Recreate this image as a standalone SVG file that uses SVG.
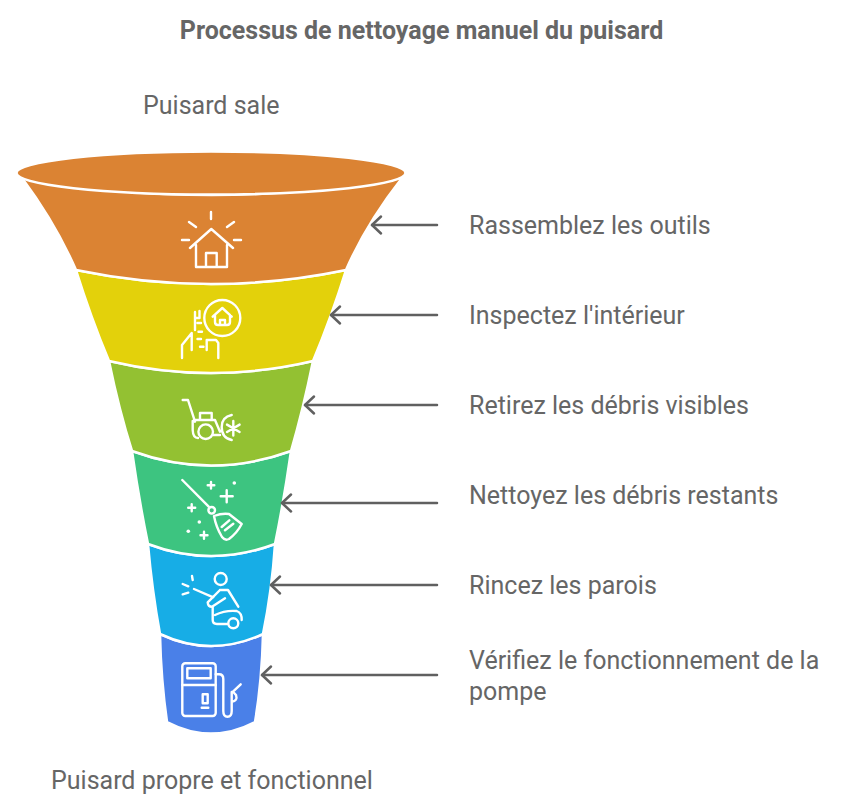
<svg xmlns="http://www.w3.org/2000/svg" width="857" height="810" viewBox="0 0 857 810">
<defs>
<style>
text{font-family:Roboto,"Liberation Sans",sans-serif;fill:#666666}
.t{font-size:25px}
.h{font-size:25px;font-weight:700;text-anchor:middle}
.b{stroke:#ffffff;stroke-width:2.5}
.i{fill:none;stroke:#ffffff;stroke-width:2.4;stroke-linecap:round;stroke-linejoin:round}
.a{fill:none;stroke:#606060;stroke-width:2.5;stroke-linecap:round;stroke-linejoin:round}
</style>
<marker id="arr" markerUnits="userSpaceOnUse" markerWidth="16" markerHeight="24" refX="12" refY="12" orient="auto"><path d="M3,3.500 L12,12 L3,20.500" class="a"/></marker>
</defs>
<text class="h" x="421.500" y="39">Processus de nettoyage manuel du puisard</text>
<text class="t" x="143" y="114">Puisard sale</text>
<text class="t" x="51" y="789">Puisard propre et fonctionnel</text>
<g id="stage6">
<path class="b" style="fill:#4A80E8" d="M160,634 Q211,658 263,634 Q262,680 255,722 Q211,745 167,722 Q161,680 160,634Z"/>
<g class="i"><rect x="182.300" y="663.300" width="33.400" height="52.700" rx="3"/><rect x="187.300" y="668.300" width="23.400" height="10"/><path d="M182.300,685H215.700M202.700,703.300V694.300H207.700V703.300ZM201.700,707.700H208.300M215.700,674.300H219Q223.300,674.300 223.300,679V711Q223.300,716.700 227.500,716.700Q231.700,716.700 231.700,711V701.700M231.700,701.700Q238,701 236,695L233,691.700L240.700,684.300M231.700,701.700V692"/></g>
</g>
<g id="stage5">
<path class="b" style="fill:#17ADE6" d="M148,544 Q211,568 275,544 Q272,590 263,634 Q211,658 160,634 Q152,590 148,544Z"/>
<g class="i"><circle cx="220.700" cy="579" r="6"/><path d="M192,576L192.700,580M182.700,584L188.300,586.300M182.700,594.300L188.300,592.700M194,589L213.300,597.300M220,590H228L238.300,606.700M220,590L207.700,602.300Q208,606.700 212,606.700L225,598.300M212.700,606.700V620Q212.700,624 217,624H227M215,615Q225,610 236.700,611Q242,613 241.700,620"/><circle cx="233.300" cy="623.300" r="5"/></g>
</g>
<g id="stage4">
<path class="b" style="fill:#3DC480" d="M132,451 Q211,480 291,451 Q284,500 275,544 Q211,568 148,544 Q139,500 132,451Z"/>
<g class="i"><path d="M182.300,480L208.700,506.700M214,516Q222,513 229,514L241.700,524Q237,533 229,539Q225,541 222,537Q216,527 214,516ZM221.700,527L229.300,520.300M225,530.300L233.300,523.700M211,482V488.600M207.700,485.300H214.300M226.700,490.300V502.300M220.700,496.300H232.700M191.700,504.200V511.200M188.200,507.700H195.200M204,531.800V538.800M200.500,535.300H207.500"/><circle cx="211.700" cy="510.300" r="3.300"/></g>
<g fill="#ffffff"><circle cx="234.300" cy="483" r="1.800"/><circle cx="199.300" cy="522" r="1.800"/><circle cx="188.300" cy="531.300" r="1.800"/></g>
</g>
<g id="stage3">
<path class="b" style="fill:#93C132" d="M109,361 Q211,385 313,361 Q303,410 291,451 Q211,480 132,451 Q119,410 109,361Z"/>
<g class="i"><path d="M182.700,400H188L195,421.700M192.700,421V430Q193,438 198,438M195,420H215L220,431.700M200,420V413H211.700V420M213,435H220M231.700,415Q221.700,417 221.700,427Q221.700,438 231.700,440M233.300,421V435.600M227,424.600L239.600,432M227,432L239.600,424.600"/><circle cx="205.700" cy="431.700" r="7.300"/></g>
</g>
<g id="stage2">
<path class="b" style="fill:#E3D10B" d="M76,270 Q211,298 346,270 Q331,318 313,361 Q211,385 109,361 Q91,318 76,270Z"/>
<g class="i"><circle cx="222.300" cy="318" r="18"/><path d="M212.700,316.700L222.300,308L231.700,316.700M215,315V322Q215,325 218,325H227Q230,325 230,322V315M220,325V320H225V325M182,358V345L191.700,333V350M195,330V312M195,318H199.500V311M197.500,323H201M198.500,331.700H202M197.500,339H201M200,346.700H203.500M206.700,350V340H216L218.300,343V358"/></g>
</g>
<g id="stage1">
<path class="b" style="fill:#DB8333" d="M22,178 Q211,212 402,178 Q366,224 346,270 Q211,298 76,270 Q56,224 22,178Z"/>
<ellipse cx="211" cy="173" rx="194.500" ry="21.500" class="b" style="fill:#DB8333"/>
<g class="i"><path d="M211,212V219M189,222L196,227M234,222L227,227M182,240H189M234,240H241M190,248L211.300,229L233,248M196,245V267H227V245M206,267V253H216.700V267"/></g>
</g>
<g id="connectors">
<path class="a" marker-end="url(#arr)" d="M437,225H372"/>
<path class="a" marker-end="url(#arr)" d="M437,315H331"/>
<path class="a" marker-end="url(#arr)" d="M437,405H305"/>
<path class="a" marker-end="url(#arr)" d="M437,503H282"/>
<path class="a" marker-end="url(#arr)" d="M437,585H271"/>
<path class="a" marker-end="url(#arr)" d="M437,675H262"/>
</g>
<g id="labels">
<text class="t" x="469" y="234">Rassemblez les outils</text>
<text class="t" x="469" y="324">Inspectez l'intérieur</text>
<text class="t" x="469" y="414">Retirez les débris visibles</text>
<text class="t" x="469" y="504">Nettoyez les débris restants</text>
<text class="t" x="469" y="594">Rincez les parois</text>
<text class="t" x="469" y="669">Vérifiez le fonctionnement de la</text>
<text class="t" x="469" y="700">pompe</text>
</g>
</svg>
